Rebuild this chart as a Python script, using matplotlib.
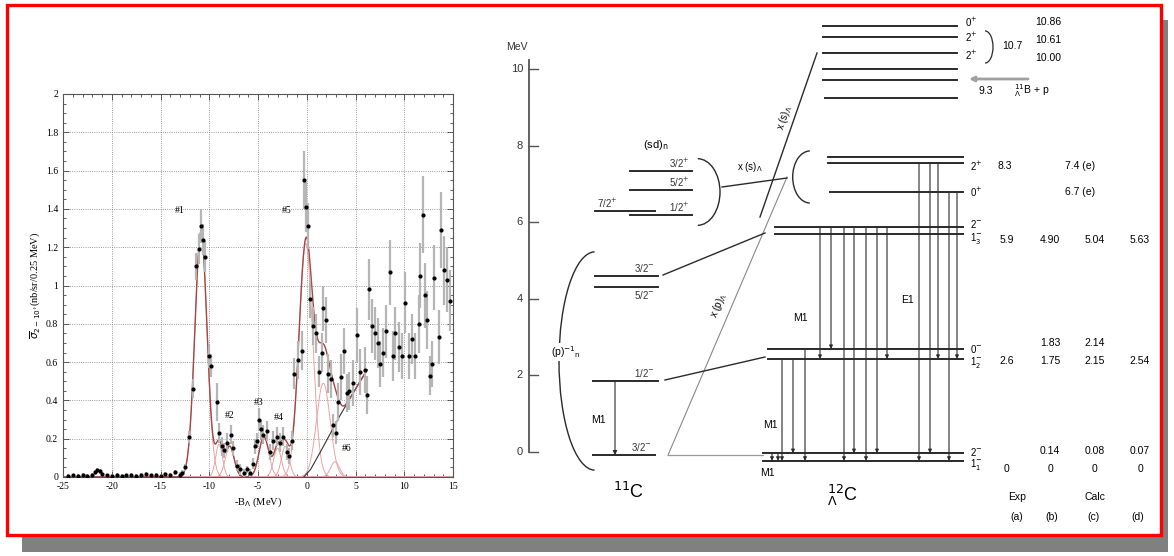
import numpy as np
import matplotlib
matplotlib.use("Agg")
import matplotlib.pyplot as plt
from matplotlib.patches import Rectangle, Arc

plt.rcParams['axes.unicode_minus'] = False

# ---------------- left panel: excitation spectrum ----------------
spec_x = [-24.5, -24.0, -23.5, -23.0, -22.5, -22.0, -21.75, -21.5, -21.25, -21.0,
          -20.5, -20.0, -19.5, -19.0, -18.5, -18.0, -17.5, -17.0, -16.5, -16.0,
          -15.5, -15.0, -14.5, -14.0, -13.5, -13.0,
          -12.75, -12.45, -12.05, -11.7, -11.4, -11.1, -10.86, -10.65, -10.45, -10.07,
          -9.8, -9.25, -8.97, -8.73, -8.5, -8.2, -7.8, -7.53, -7.2, -6.8,
          -6.44, -6.1, -5.82, -5.5, -5.27, -5.07, -4.86, -4.7, -4.45, -4.1,
          -3.77, -3.5, -3.1, -2.75, -2.4, -2.05, -1.85, -1.55, -1.3, -0.86,
          -0.52, -0.27, -0.07, 0.14, 0.34, 0.68, 0.96, 1.23, 1.54, 1.71,
          1.99, 2.23, 2.47, 2.74, 3.01, 3.25, 3.49, 3.77, 4.11, 4.38,
          4.79, 5.14, 5.48, 5.99, 6.16, 6.34, 6.68, 7.02, 7.26, 7.53,
          7.81, 8.15, 8.49, 8.84, 9.08, 9.42, 9.76, 10.1, 10.45, 10.79,
          11.13, 11.47, 11.64, 11.92, 12.16, 12.33, 12.6, 12.84, 13.01, 13.53,
          13.77, 14.04, 14.38, 14.66]
spec_y = [0.005, 0.008, 0.004, 0.010, 0.006, 0.012, 0.025, 0.035, 0.030, 0.015,
          0.008, 0.005, 0.010, 0.004, 0.008, 0.012, 0.006, 0.010, 0.015, 0.008,
          0.012, 0.006, 0.015, 0.010, 0.025, 0.012,
          0.02, 0.05, 0.21, 0.46, 1.10, 1.19, 1.31, 1.24, 1.15, 0.63,
          0.58, 0.39, 0.23, 0.16, 0.14, 0.18, 0.22, 0.15, 0.06, 0.04,
          0.02, 0.04, 0.02, 0.07, 0.16, 0.19, 0.30, 0.25, 0.22, 0.24,
          0.13, 0.19, 0.21, 0.18, 0.21, 0.13, 0.11, 0.19, 0.54, 0.61,
          0.66, 1.55, 1.41, 1.31, 0.93, 0.79, 0.75, 0.55, 0.65, 0.88,
          0.82, 0.54, 0.51, 0.27, 0.23, 0.39, 0.52, 0.66, 0.44, 0.45,
          0.49, 0.74, 0.55, 0.56, 0.43, 0.98, 0.79, 0.75, 0.70, 0.59,
          0.65, 0.76, 1.07, 0.63, 0.75, 0.68, 0.63, 0.91, 0.63, 0.72,
          0.63, 0.80, 1.05, 1.37, 0.95, 0.82, 0.53, 0.59, 1.04, 0.73,
          1.29, 1.08, 1.03, 0.92]
spec_err = [0.01, 0.01, 0.01, 0.01, 0.01, 0.01, 0.012, 0.012, 0.012, 0.01,
            0.01, 0.01, 0.01, 0.01, 0.01, 0.01, 0.01, 0.01, 0.01, 0.01,
            0.01, 0.01, 0.012, 0.01, 0.012, 0.012,
            0.015, 0.02, 0.03, 0.05, 0.07, 0.08, 0.09, 0.08, 0.08, 0.06,
            0.06, 0.10, 0.05, 0.05, 0.04, 0.05, 0.05, 0.04, 0.03, 0.03,
            0.02, 0.02, 0.02, 0.03, 0.04, 0.04, 0.06, 0.05, 0.05, 0.05,
            0.04, 0.05, 0.05, 0.05, 0.05, 0.04, 0.04, 0.05, 0.08, 0.10,
            0.10, 0.15, 0.13, 0.12, 0.10, 0.10, 0.10, 0.08, 0.10, 0.12,
            0.12, 0.10, 0.10, 0.06, 0.06, 0.10, 0.12, 0.12, 0.10, 0.10,
            0.12, 0.14, 0.12, 0.12, 0.10, 0.16, 0.14, 0.14, 0.13, 0.12,
            0.13, 0.14, 0.17, 0.13, 0.14, 0.13, 0.12, 0.16, 0.12, 0.13,
            0.12, 0.15, 0.17, 0.20, 0.17, 0.15, 0.10, 0.12, 0.17, 0.14,
            0.20, 0.18, 0.17, 0.16]

# fitted peak components: centre, height, sigma
peak_pos = [-10.85, -9.0, -7.9, -4.4, -3.0, -2.2, -0.1, 1.7, 2.9]
peak_height = [1.28, 0.17, 0.16, 0.21, 0.15, 0.16, 1.22, 0.49, 0.08]
peak_sigma = [0.62, 0.35, 0.45, 0.5, 0.4, 0.4, 0.7, 0.7, 0.45]
# rising quasi-free background (#6)
bg_x = [-0.3, 0.4, 1.5, 3.4, 5.0, 6.2]
bg_y = [0.0, 0.04, 0.14, 0.32, 0.46, 0.56]

peak_names = ['#1', '#2', '#3', '#4', '#5', '#6']
name_x = [-13.0, -7.9, -4.9, -2.9, -2.05, 4.1]
name_y = [1.39, 0.32, 0.39, 0.31, 1.39, 0.15]

# ---------------- right panel: level scheme ----------------
c11_E = [-0.08, 1.85, 4.31, 4.60, 6.29, 6.19, 6.84, 7.34]
c11_jp = ['3/2$^{-}$', '1/2$^{-}$', '5/2$^{-}$', '3/2$^{-}$',
          '7/2$^{+}$', '1/2$^{+}$', '5/2$^{+}$', '3/2$^{+}$']

c12_E = [11.12, 10.84, 10.42, 10.00, 9.71, 9.24, 7.70, 7.55, 6.79,
         5.87, 5.69, 2.69, 2.43, -0.03, -0.23]

mev_ticks = [0, 2, 4, 6, 8, 10]

# gamma transitions: (from level, to level) in c12_E
gamma_from = [9, 9, 9, 9, 9, 9, 9, 7, 7, 7, 8, 8, 12, 12, 11, 13, 13]
gamma_to = [12, 11, 14, 13, 14, 13, 12, 14, 13, 12, 14, 12, 14, 13, 14, 14, 14]

col_ids = ['(a)', '(b)', '(c)', '(d)']
row_E = [5.54, 2.38, -0.44]
row_vals = [['5.9', '4.90', '5.04', '5.63'],
            ['2.6', '1.75', '2.15', '2.54'],
            ['0', '0', '0', '0']]
row0m_vals = ['1.83', '2.14']
row2m_vals = ['0.14', '0.08', '0.07']

# ------------------------------------------------------------------
W, H = 1174, 556
fig = plt.figure(figsize=(W / 100, H / 100), dpi=100)

# pixel -> MeV mapping for the scheme (0 MeV at y=452 px, 38.3 px/MeV)
def E_of(py):
    return (452 - py) / 38.3

bg = fig.add_axes([0, 0, 1, 1], zorder=0)
bg.set_xlim(0, W)
bg.set_ylim(E_of(H), E_of(0))
bg.axis('off')

bg.add_patch(Rectangle((22 / W, 4 / H), 1146 / W, 532 / H, transform=bg.transAxes,
                       facecolor='#808080', edgecolor='none', zorder=0))
bg.add_patch(Rectangle((7 / W, 21 / H), 1154 / W, 530 / H, transform=bg.transAxes,
                       facecolor='white', edgecolor='#ff0000', lw=2.4, zorder=0.5))

sans = 'Liberation Sans'
lc = '#2a2a2a'
fs = 7.5

# MeV axis
bg.plot([529, 529], [0, E_of(60)], color='#555555', lw=1.3)
for t in mev_ticks:
    bg.plot([529, 538], [t, t], color='#555555', lw=1.0)
    bg.text(523, t, str(t), ha='right', va='center', fontsize=8, family=sans, color='#333333')
bg.text(517, E_of(47), 'MeV', ha='center', va='center', fontsize=7.5, family=sans, color='#333333')

# 11C levels
c11_x0 = [593, 593, 595, 595, 595, 630, 630, 630]
c11_x1 = [655, 658, 658, 658, 655, 692, 692, 692]
c11_lx = [652, 655, 655, 655, 618, 690, 690, 690]
c11_dy = [0.2, 0.2, -0.22, 0.2, 0.2, 0.2, 0.2, 0.2]
for E, jp, x0, x1, lx, dy in zip(c11_E, c11_jp, c11_x0, c11_x1, c11_lx, c11_dy):
    bg.plot([x0, x1], [E, E], color=lc, lw=1.4)
    bg.text(lx, E + dy, jp, ha='right', va='center', fontsize=7, family=sans, color='#333333')

# 11C M1
bg.annotate('', xy=(615, c11_E[0]), xytext=(615, c11_E[1]),
            arrowprops=dict(arrowstyle='-|>', lw=0.8, color=lc, mutation_scale=6,
                            shrinkA=0, shrinkB=0))
bg.text(598, E_of(420), 'M1', ha='center', va='center', fontsize=fs, family=sans)
bg.text(656, E_of(145), r'(sd)$_{\rm n}$', ha='center', va='center', fontsize=8, family=sans)
bg.text(566, E_of(352), r'(p)$^{-1}$$_{\rm n}$', ha='center', va='center', fontsize=7.5,
        family=sans, bbox=dict(facecolor='white', edgecolor='none', pad=0.5), zorder=3)
bg.text(628, E_of(492), r'$^{11}$C', ha='center', va='center', fontsize=13, family=sans)

# brackets
bg.add_patch(Arc((595, E_of(361)), 72, 5.7, theta1=99, theta2=261, color=lc, lw=1.0, zorder=2))
bg.add_patch(Arc((697.5, E_of(192)), 45, 1.74, theta1=-72, theta2=72, color=lc, lw=1.0))
bg.add_patch(Arc((810, E_of(177)), 34.6, 1.36, theta1=107, theta2=253, color=lc, lw=1.0))
bg.add_patch(Arc((985, E_of(47)), 16, 0.84, theta1=-78, theta2=78, color=lc, lw=0.9))

# 12C levels
c12_x0 = [823, 823, 823, 823, 823, 825, 828, 828, 830, 775, 775, 768, 768, 763, 763]
c12_x1 = [957] * 6 + [963] * 9
for E, x0, x1 in zip(c12_E, c12_x0, c12_x1):
    bg.plot([x0, x1], [E, E], color=lc, lw=1.4)

# gamma transitions
gamma_x = [820, 831, 844, 854, 866, 877, 887, 919, 930, 938, 949, 957, 782, 793, 805, 772, 778]
for x, i, j in zip(gamma_x, gamma_from, gamma_to):
    bg.annotate('', xy=(x, c12_E[j]), xytext=(x, c12_E[i]),
                arrowprops=dict(arrowstyle='-|>', lw=0.8, color=lc, mutation_scale=5,
                                shrinkA=0, shrinkB=0))
bg.text(800, E_of(318), 'M1', ha='center', va='center', fontsize=fs, family=sans)
bg.text(907, E_of(300), 'E1', ha='center', va='center', fontsize=fs, family=sans)
bg.text(770, E_of(425), 'M1', ha='center', va='center', fontsize=fs, family=sans,
        bbox=dict(facecolor='white', edgecolor='none', pad=0.3))
bg.text(767, E_of(473), 'M1', ha='center', va='center', fontsize=fs, family=sans)
bg.text(842, E_of(495), r'$^{12}_{\Lambda}$C', ha='center', va='center', fontsize=13, family=sans)

# couplings between the two nuclei
bg.plot([668, 763], [c11_E[0], c11_E[0]], color='#999999', lw=0.9)
bg.plot([668, 787], [c11_E[0], E_of(177)], color='#888888', lw=0.8)
bg.plot([760, 817], [E_of(217), E_of(53)], color=lc, lw=1.0)
bg.plot([663, 765], [E_of(275), E_of(233)], color=lc, lw=1.0)
bg.plot([665, 765], [E_of(380), E_of(357)], color=lc, lw=1.0)
bg.plot([722, 787], [E_of(187), E_of(178)], color=lc, lw=1.0)
bg.text(719, E_of(305), r'x (p)$_{\Lambda}$', rotation=67, ha='center', va='center',
        fontsize=7, family=sans)
bg.text(785, E_of(118), r'x (s)$_{\Lambda}$', rotation=71, ha='center', va='center',
        fontsize=7, family=sans)
bg.text(750, E_of(167), r'x (s)$_{\Lambda}$', ha='center', va='center', fontsize=7, family=sans)

# separation threshold
bg.annotate('', xy=(969, E_of(79)), xytext=(1028, E_of(79)),
            arrowprops=dict(arrowstyle='-|>', lw=2.0, color='#a0a0a0', mutation_scale=7,
                            shrinkA=0, shrinkB=0))
bg.text(986, E_of(91), '9.3', ha='center', va='center', fontsize=fs, family=sans)
bg.text(1032, E_of(91), r'$^{11}_{\Lambda}$B + p', ha='center', va='center', fontsize=fs, family=sans)

# spin labels and energies on the right
jp_labels = [(965, 22, '0$^{+}$'), (965, 37, '2$^{+}$'), (965, 55, '2$^{+}$'),
             (970, 166, '2$^{+}$'), (970, 192, '0$^{+}$'),
             (970, 224, '2$^{-}$'), (970, 239, '1$^{-}_{3}$'),
             (970, 349, '0$^{-}$'), (970, 362, '1$^{-}_{2}$'),
             (970, 452, '2$^{-}$'), (970, 465, '1$^{-}_{1}$')]
for x, y, s in jp_labels:
    bg.text(x, E_of(y), s, ha='left', va='center', fontsize=7, family=sans)

bg.text(1012, E_of(46), '10.7', ha='center', va='center', fontsize=fs, family=sans)
for y, s in zip([22, 40, 58], ['10.86', '10.61', '10.00']):
    bg.text(1048, E_of(y), s, ha='center', va='center', fontsize=fs, family=sans)
bg.text(1005, E_of(166), '8.3', ha='center', va='center', fontsize=fs, family=sans)
bg.text(1080, E_of(166), '7.4 (e)', ha='center', va='center', fontsize=fs, family=sans)
bg.text(1080, E_of(192), '6.7 (e)', ha='center', va='center', fontsize=fs, family=sans)

col_x = [1007, 1050, 1095, 1140]
for E, vals in zip(row_E, row_vals):
    for x, v in zip(col_x, vals):
        bg.text(x, E, v, ha='center', va='center', fontsize=fs, family=sans)
for x, v in zip(col_x[1:3], row0m_vals):
    bg.text(x, E_of(343), v, ha='center', va='center', fontsize=fs, family=sans)
for x, v in zip(col_x[1:], row2m_vals):
    bg.text(x, E_of(451), v, ha='center', va='center', fontsize=fs, family=sans)
bg.text(1017, E_of(497), 'Exp', ha='center', va='center', fontsize=fs, family=sans)
bg.text(1095, E_of(497), 'Calc', ha='center', va='center', fontsize=fs, family=sans)
for x, s in zip([1017, 1052, 1094, 1138], col_ids):
    bg.text(x, E_of(517), s, ha='center', va='center', fontsize=fs, family=sans)

# ---------------- left spectrum axes ----------------
ax = fig.add_axes([63 / W, 79 / H, 390 / W, 383 / H], zorder=2)
serif = 'Liberation Serif'

xf = np.arange(-25, 15.01, 0.05)
# background is zero below its first point and undefined past its last one,
# so the total fit simply ends where the background line ends
bgf = np.interp(xf, bg_x, bg_y, left=0.0, right=np.nan)
total = bgf.copy()
for c, h, s in zip(peak_pos, peak_height, peak_sigma):
    comp = h * np.exp(-0.5 * ((xf - c) / s) ** 2)
    total = total + comp
    ax.plot(xf, comp, color='#e9a3a3', lw=0.7, zorder=2)
ax.plot(bg_x, bg_y, color='#333333', lw=0.8, zorder=2)
ax.plot(xf, total, color='#a54545', lw=1.0, zorder=3)

ax.errorbar(spec_x, spec_y, yerr=spec_err, fmt='o', ms=2.0, color='k',
            ecolor='#b5b5b5', elinewidth=1.6, capsize=0, zorder=4)

for s, x, y in zip(peak_names, name_x, name_y):
    ax.text(x, y, s, ha='center', va='center', fontsize=7, family=serif)

ax.set_xlim(-25, 15)
ax.set_ylim(0, 2)
ax.set_xticks(np.arange(-25, 16, 5))
ax.set_xticklabels([str(v) for v in range(-25, 16, 5)])
ax.set_yticks(np.arange(0, 2.01, 0.2))
ax.set_yticklabels(['0', '0.2', '0.4', '0.6', '0.8', '1', '1.2', '1.4', '1.6', '1.8', '2'])
ax.set_xticks(np.arange(-25, 16, 1), minor=True)
ax.set_yticks(np.arange(0, 2.01, 0.05), minor=True)
ax.tick_params(which='both', direction='in', top=True, right=True, labelsize=7,
               color='#444444', width=0.6)
ax.tick_params(which='major', length=4)
ax.tick_params(which='minor', length=2)
for lab in ax.get_xticklabels() + ax.get_yticklabels():
    lab.set_family(serif)
ax.grid(True, which='major', linestyle=':', color='#777777', lw=0.6)
for sp in ax.spines.values():
    sp.set_color('#555555')
    sp.set_linewidth(0.8)
ax.set_xlabel(r'-B$_{\Lambda}$ (MeV)', fontsize=7.5, family=serif, labelpad=3)
ax.set_ylabel(r'$\overline{\sigma}_{2-10^{\circ}}$(nb/sr/0.25 MeV)', fontsize=7.5,
              family=serif, labelpad=2)

fig.savefig('out.png', dpi=100)
